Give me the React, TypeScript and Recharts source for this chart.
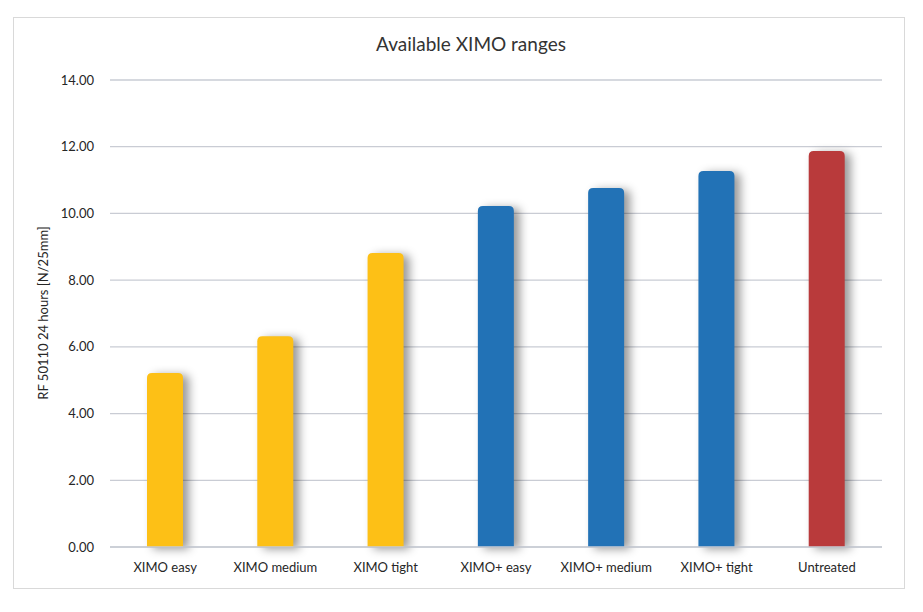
import { BarChart, Bar, XAxis, YAxis, CartesianGrid, Cell } from 'recharts'

const categories = ['XIMO easy', 'XIMO medium', 'XIMO tight', 'XIMO+ easy', 'XIMO+ medium', 'XIMO+ tight', 'Untreated']
const values = [5.22, 6.32, 8.81, 10.22, 10.76, 11.27, 11.87]
const groups = ['ximo', 'ximo', 'ximo', 'plus', 'plus', 'plus', 'untreated']
const yTicks = [0, 2, 4, 6, 8, 10, 12, 14]

const groupColors: Record<string, string> = {
  ximo: '#FDC016',
  plus: '#2272B6',
  untreated: '#B93A3B',
}

const data = categories.map((name, i) => ({ name, value: values[i], group: groups[i] }))

const font = 'Lato, "Open Sans", sans-serif'

function ShadowBar(props: any) {
  const { x, y, width, height, fill } = props
  const r = 5
  const d = `M${x},${y + height} L${x},${y + r} Q${x},${y} ${x + r},${y} L${x + width - r},${y} Q${x + width},${y} ${x + width},${y + r} L${x + width},${y + height} Z`
  return <path d={d} fill={fill} style={{ filter: 'drop-shadow(6px 2px 5px rgba(0,0,0,0.4))' }} />
}

export default function App() {
  return (
    <div style={{ position: 'absolute', left: 0, top: 0, width: 923, height: 612, background: '#fff', fontFamily: font }}>
      <div
        style={{
          position: 'absolute',
          left: 13,
          top: 17,
          width: 890,
          height: 570,
          border: '1.5px solid #d9d9d9',
        }}
      />
      <div
        style={{
          position: 'absolute',
          left: 0,
          width: 942,
          top: 32,
          textAlign: 'center',
          fontSize: 19,
          color: '#333',
        }}
      >
        Available XIMO ranges
      </div>
      <div style={{ position: 'absolute', left: 0, top: 0 }}>
        <BarChart width={923} height={612} data={data} margin={{ top: 80, right: 41, bottom: 35, left: 0 }}>
          <CartesianGrid vertical={false} stroke="#c9ccd4" strokeWidth={1.3} />
          <XAxis
            dataKey="name"
            tickLine={false}
            axisLine={{ stroke: '#c9ccd4', strokeWidth: 1.3 }}
            tick={{ fontSize: 13, fill: '#262626', fontFamily: font }}
            tickMargin={10}
            interval={0}
          />
          <YAxis
            width={110}
            domain={[0, 14]}
            ticks={yTicks}
            tickFormatter={(v: number) => v.toFixed(2)}
            tickLine={false}
            axisLine={false}
            tickSize={0}
            tickMargin={16}
            tick={{ fontSize: 13, fill: '#262626', fontFamily: font }}
            label={{
              content: () => (
                <text
                  x={45}
                  y={313}
                  transform="rotate(-90 45 313)"
                  textAnchor="middle"
                  dominantBaseline="middle"
                  fontSize={13}
                  fill="#262626"
                  fontFamily={font}
                >
                  RF 50110 24 hours [N/25mm]
                </text>
              ),
            }}
          />
          <Bar dataKey="value" barSize={36} isAnimationActive={false} shape={<ShadowBar />}>
            {data.map((d) => (
              <Cell key={d.name} fill={groupColors[d.group]} />
            ))}
          </Bar>
        </BarChart>
      </div>
    </div>
  )
}
